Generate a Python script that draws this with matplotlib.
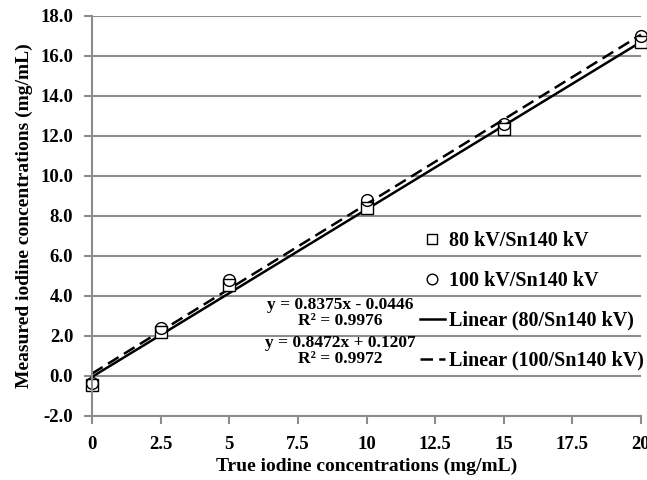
import matplotlib
matplotlib.use("Agg")
import matplotlib.pyplot as plt
import numpy as np
from matplotlib.ticker import FuncFormatter

true_conc = [0, 2.5, 5, 10, 15, 20]
meas_80 = [-0.45, 2.2, 4.55, 8.4, 12.35, 16.7]
meas_100 = [-0.35, 2.4, 4.8, 8.8, 12.6, 17.0]
fit_80 = (0.8375, -0.0446)
fit_100 = (0.8472, 0.1207)
eq_80 = "y = 0.8375x - 0.0446\nR² = 0.9976"
eq_100 = "y = 0.8472x + 0.1207\nR² = 0.9972"
labels = ["80 kV/Sn140 kV", "100 kV/Sn140 kV", "Linear (80/Sn140 kV)", "Linear (100/Sn140 kV)"]
xticks = [0, 2.5, 5, 7.5, 10, 12.5, 15, 17.5, 20]
yticks = [-2, 0, 2, 4, 6, 8, 10, 12, 14, 16, 18]

plt.rcParams['font.family'] = ['Liberation Serif', 'DejaVu Serif']
plt.rcParams['font.weight'] = 'bold'

fig = plt.figure(figsize=(6.47, 4.8), dpi=100)
ax = fig.add_axes([92/647, 1-416/480, 549/647, 400/480])
grey = '#8c8c8c'

ax.set_xlim(0, 20)
ax.set_ylim(-2, 18)
ax.set_yticks(yticks)
ax.set_xticks(xticks)
ax.yaxis.set_major_formatter(FuncFormatter(lambda v, p: f"{v:.1f}"))
ax.xaxis.set_major_formatter(FuncFormatter(lambda v, p: f"{v:g}"))
ax.grid(axis='y', color=grey, lw=1.5)
ax.set_axisbelow(True)
for s in ['top', 'right']:
    ax.spines[s].set_visible(False)
for s in ['left', 'bottom']:
    ax.spines[s].set_color(grey)
    ax.spines[s].set_linewidth(1.5)
ax.tick_params(axis='both', direction='out', color=grey, width=1.5, length=5.5,
               labelsize=13.5)
ax.tick_params(axis='y', pad=8)
ax.tick_params(axis='x', pad=9)
for lab in ax.get_xticklabels() + ax.get_yticklabels():
    lab.set_fontweight('bold')
ax.set_xlabel("True iodine concentrations (mg/mL)", fontsize=14, fontweight='bold', labelpad=3)
ax.set_ylabel("Measured iodine concentrations (mg/mL)", fontsize=14, fontweight='bold', labelpad=5)

xl = np.array([0, 20])
l1, = ax.plot(xl, fit_80[0]*xl + fit_80[1], color='black', lw=1.8, clip_on=False)
l2, = ax.plot(xl, fit_100[0]*xl + fit_100[1], color='black', lw=1.8, ls=(0, (5, 2.5)), clip_on=False)
p1, = ax.plot(true_conc, meas_80, ls='none', marker='s', ms=8.5, mfc='white', mec='black', mew=1.0, clip_on=False)
p2, = ax.plot(true_conc, meas_100, ls='none', marker='o', ms=8.5, mfc='none', mec='black', mew=1.0, clip_on=False)

ax.text(9.03, 3.15, eq_80, ha='center', va='center', fontsize=12.5, fontweight='bold', linespacing=1.0)
ax.text(9.03, 1.25, eq_100, ha='center', va='center', fontsize=12.5, fontweight='bold', linespacing=1.0)

leg = ax.legend([p1, p2, l1, l2], labels, loc='center left', bbox_to_anchor=(0.597, 0.2875),
                frameon=False, fontsize=14.5, labelspacing=0.98, handlelength=1.25,
                handletextpad=0.18, borderpad=0, borderaxespad=0, markerscale=0.9)
for t in leg.get_texts():
    t.set_fontweight('bold')

fig.savefig("out.png", dpi=100)
